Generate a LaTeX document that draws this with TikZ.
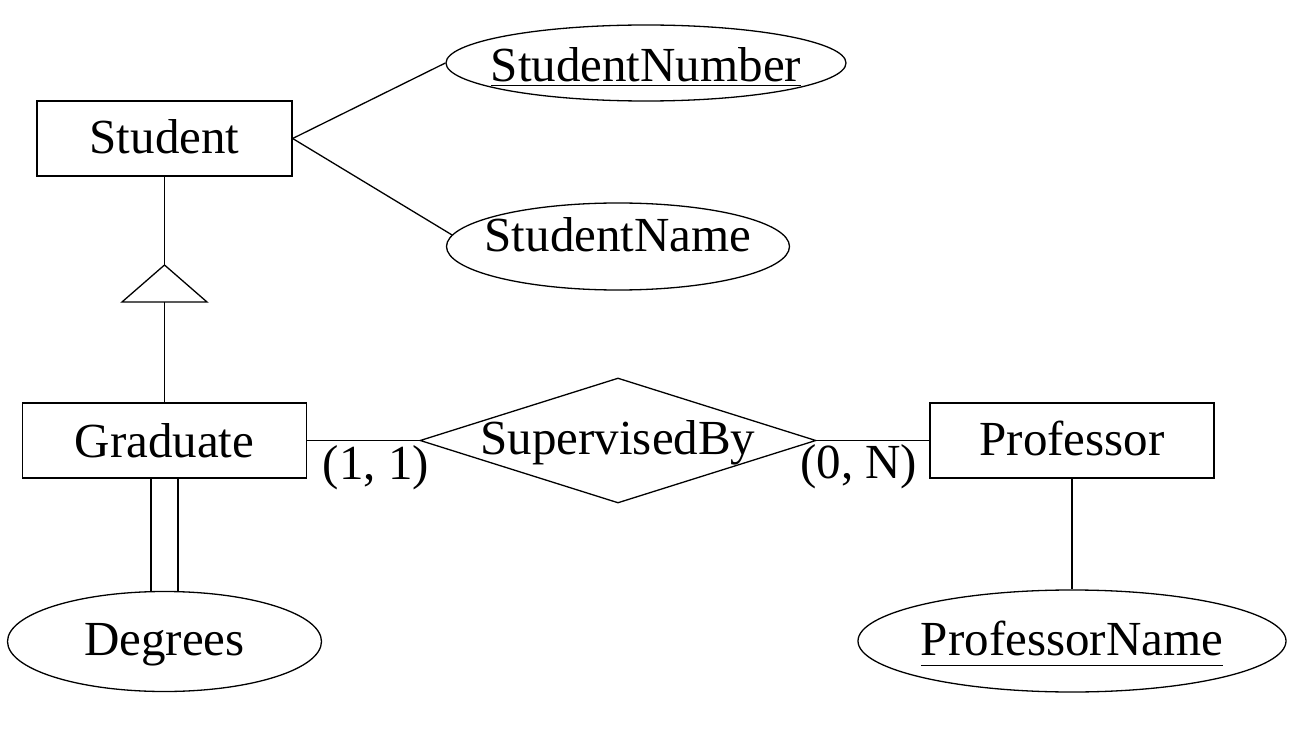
\documentclass[tikz,border=0pt]{standalone}
\usepackage{fontspec}
\setmainfont{Liberation Serif}
\usetikzlibrary{shapes.geometric}
\newcommand\ulin[2]{\setbox0\hbox{#2}\rlap{\raisebox{-#1}{\rule{\wd0}{1.3pt}}}\box0}
\begin{document}
\begin{tikzpicture}[x=1pt,y=-1pt,line width=1.3pt,
  txt/.style={font=\fontsize{49}{58}\selectfont,text height=40pt,text depth=10pt,inner sep=0pt},
  entity/.style={draw,rectangle,minimum height=75pt,inner sep=0pt,txt},
  attr/.style={draw,ellipse,inner sep=0pt},
  rel/.style={draw,diamond,inner sep=0pt},
  card/.style={txt,anchor=base}]
\useasboundingbox (0,0) rectangle (1315,730);
% entities
\node[entity,minimum width=255pt] (student) at (164.5,138.5) {Student};
\node[entity,minimum width=284pt] (grad) at (164.5,440.5) {\raisebox{-2pt}{Graduate}};
\node[entity,minimum width=284pt] (prof) at (1072,440.5) {Professor};
% attributes
\node[attr,minimum width=400pt,minimum height=76pt,
  label={[txt]center:\raisebox{-4pt}{\ulin{4.5pt}{StudentNumber}}}] (snum) at (646,63) {};
\node[attr,minimum width=343pt,minimum height=87pt,
  label={[txt]center:\raisebox{10pt}{StudentName}}] (sname) at (618,246.5) {};
\node[attr,minimum width=314pt,minimum height=100pt,
  label={[txt]center:\raisebox{1.5pt}{Degrees}}] (deg) at (164.5,641.5) {};
\node[attr,minimum width=428pt,minimum height=102pt,
  label={[txt]center:\raisebox{1pt}{\ulin{11pt}{ProfessorName}}}] (pname) at (1072,641) {};
% relationship
\node[rel,minimum width=396pt,minimum height=125pt,
  label={[txt]center:\raisebox{1.5pt}{SupervisedBy}}] (sup) at (618,440.5) {};
% ISA triangle
\coordinate (isatop) at (164.5,265);
\coordinate (isabase) at (164.5,302);
\draw (isatop) -- ++(-42.5,37) -- ++(85,0) -- cycle;
% connectors
\draw (student.east) -- (snum.west);
\draw (student.east) -- (sname.176);
\draw (student.south) -- (isatop);
\draw (isabase) -- (grad.north);
\draw ([xshift=-13.5pt]grad.south) -- ([xshift=-13.5pt]grad.south |- deg.north);
\draw ([xshift=13.5pt]grad.south) -- ([xshift=13.5pt]grad.south |- deg.north);
\draw (grad.east) -- (sup.west);
\draw (sup.east) -- (prof.west);
\draw (prof.south) -- (pname.north);
% cardinalities
\node[card] (c1) at (376,479) {(1, 1)};
\node[card] (c2) at (858.7,478) {(0, N)};
\end{tikzpicture}
\end{document}
